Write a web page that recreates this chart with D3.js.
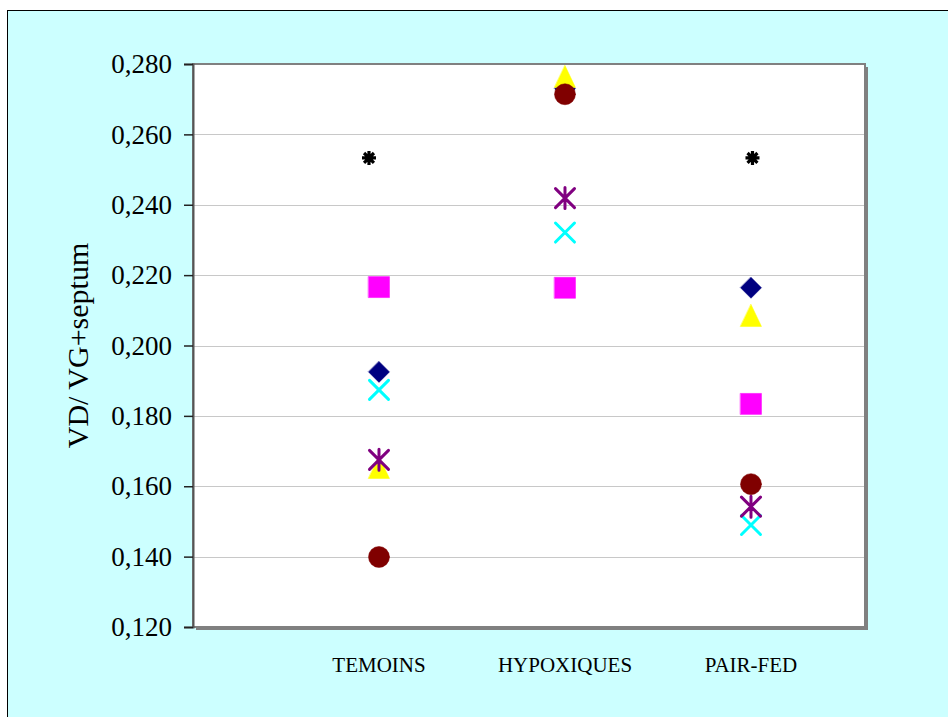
<!DOCTYPE html>
<html>
<head>
<meta charset="utf-8">
<script src="https://cdn.jsdelivr.net/npm/d3@7"></script>
<style>
  html, body { margin: 0; padding: 0; background: #ffffff; }
  svg { display: block; }
</style>
</head>
<body>
<svg id="chart" width="948" height="717"></svg>
<script>
// Groups shown along the horizontal axis
const categories = ["TEMOINS", "HYPOXIQUES", "PAIR-FED"];

// Individual ratios, one value per group for each animal series
const seriesDiamond  = [0.1925, 0.2730, 0.2164];
const seriesSquare   = [0.2166, 0.2164, 0.1834];
const seriesTriangle = [0.1652, 0.2763, 0.2084];
const seriesCross    = [0.1874, 0.2321, 0.1490];
const seriesStar     = [0.1675, 0.2419, 0.1542];
const seriesCircle   = [0.1399, 0.2714, 0.1606];

// Significance marks (null where none is drawn)
const significance = [0.2533, null, 0.2533];

// Axis ticks
const yTicks = [0.120, 0.140, 0.160, 0.180, 0.200, 0.220, 0.240, 0.260, 0.280];
const yTitle = "VD/ VG+septum";

const serif = "'Liberation Serif', 'Times New Roman', serif";
const svg = d3.select("#chart");

// Outer chart frame
svg.append("rect")
  .attr("x", 7.5).attr("y", 10.5)
  .attr("width", 948).attr("height", 717)
  .attr("fill", "#ccffff")
  .attr("stroke", "#000").attr("stroke-width", 1);

const plot = { left: 193, top: 64, right: 865, bottom: 627 };

const x = d3.scaleLinear().domain([0, 3.613]).range([plot.left, plot.right]);
const y = d3.scaleLinear().domain([0.120, 0.280]).range([plot.bottom, plot.top]);

// Plot area shadow and background
svg.append("rect")
  .attr("x", plot.left + 3).attr("y", plot.top + 3)
  .attr("width", plot.right - plot.left).attr("height", plot.bottom - plot.top)
  .attr("fill", "#808080");
svg.append("rect")
  .attr("x", plot.left).attr("y", plot.top)
  .attr("width", plot.right - plot.left).attr("height", plot.bottom - plot.top)
  .attr("fill", "#ffffff");

// Horizontal gridlines
svg.append("g")
  .selectAll("line")
  .data(yTicks.slice(1, -1))
  .join("line")
  .attr("x1", plot.left).attr("x2", plot.right)
  .attr("y1", d => Math.round(y(d)) + 0.5).attr("y2", d => Math.round(y(d)) + 0.5)
  .attr("stroke", "#c8c8c8").attr("stroke-width", 1);

// Plot border
svg.append("rect")
  .attr("x", plot.left).attr("y", plot.top)
  .attr("width", plot.right - plot.left).attr("height", plot.bottom - plot.top)
  .attr("fill", "none")
  .attr("stroke", "#808080").attr("stroke-width", 2);

// Y axis
const fmt = v => d3.format(".3f")(v).replace(".", ",");
const yAxis = d3.axisLeft(y)
  .tickValues(yTicks)
  .tickFormat(fmt)
  .tickSize(9)
  .tickPadding(12);
const gy = svg.append("g")
  .attr("transform", `translate(${plot.left},0)`)
  .call(yAxis);
gy.select(".domain").attr("stroke", "#555").attr("stroke-width", 2);
gy.selectAll(".tick line").attr("stroke", "#222").attr("stroke-width", 1.5);
gy.selectAll(".tick text")
  .attr("font-family", serif)
  .attr("font-size", 27)
  .attr("fill", "#000");

// Category labels
svg.append("g")
  .selectAll("text")
  .data(categories)
  .join("text")
  .attr("x", (d, i) => x(i + 1))
  .attr("y", 672)
  .attr("text-anchor", "middle")
  .attr("font-family", serif)
  .attr("font-size", 21)
  .attr("fill", "#000")
  .text(d => d);

// Y axis title
svg.append("text")
  .attr("transform", `translate(88,${(plot.top + plot.bottom) / 2}) rotate(-90)`)
  .attr("text-anchor", "middle")
  .attr("font-family", serif)
  .attr("font-size", 30)
  .attr("fill", "#000")
  .text(yTitle);

// Marker shapes
const R = 10.5;
const shapes = {
  diamond: () => `M0,${-R}L${R},0L0,${R}L${-R},0Z`,
  square: () => `M${-R},${-R}H${R}V${R}H${-R}Z`,
  triangle: () => `M0,${-R - 1}L${R},${R}L${-R},${R}Z`,
  cross: () => `M${-R + 1},${-R + 1}L${R - 1},${R - 1}M${R - 1},${-R + 1}L${-R + 1},${R - 1}`,
  star: () => `M${-R + 1},${-R + 1}L${R - 1},${R - 1}M${R - 1},${-R + 1}L${-R + 1},${R - 1}M0,${-R}L0,${R}`,
  circle: () => `M${R},0A${R},${R} 0 1,1 ${-R},0A${R},${R} 0 1,1 ${R},0Z`
};

const series = [
  { values: seriesDiamond,  shape: "diamond",  color: "#000080", filled: true },
  { values: seriesSquare,   shape: "square",   color: "#ff00ff", filled: true },
  { values: seriesTriangle, shape: "triangle", color: "#ffff00", filled: true },
  { values: seriesCross,    shape: "cross",    color: "#00ffff", filled: false },
  { values: seriesStar,     shape: "star",     color: "#800080", filled: false },
  { values: seriesCircle,   shape: "circle",   color: "#800000", filled: true }
];

series.forEach(s => {
  svg.append("g")
    .selectAll("path")
    .data(s.values)
    .join("path")
    .attr("transform", (d, i) => `translate(${x(i + 1)},${y(d)})`)
    .attr("d", shapes[s.shape]())
    .attr("fill", s.filled ? s.color : "none")
    .attr("stroke", s.color)
    .attr("stroke-width", s.filled ? 0.5 : 3)
    .attr("stroke-linecap", "round");
});

// Significance asterisks (the first one sits slightly left of its column)
const asteriskShift = [-10, 0, 1.5];
const ar = 7;
const asteriskPath = d3.range(4).map(k => {
  const a = k * Math.PI / 4;
  const dx = ar * Math.sin(a), dy = ar * Math.cos(a);
  return `M${-dx},${-dy}L${dx},${dy}`;
}).join("");
svg.append("g")
  .selectAll("path")
  .data(significance.map((v, i) => ({ v, i })).filter(d => d.v !== null))
  .join("path")
  .attr("transform", d => `translate(${x(d.i + 1) + asteriskShift[d.i]},${y(d.v)})`)
  .attr("d", asteriskPath)
  .attr("fill", "none")
  .attr("stroke", "#000")
  .attr("stroke-width", 3.2);
</script>
</body>
</html>
